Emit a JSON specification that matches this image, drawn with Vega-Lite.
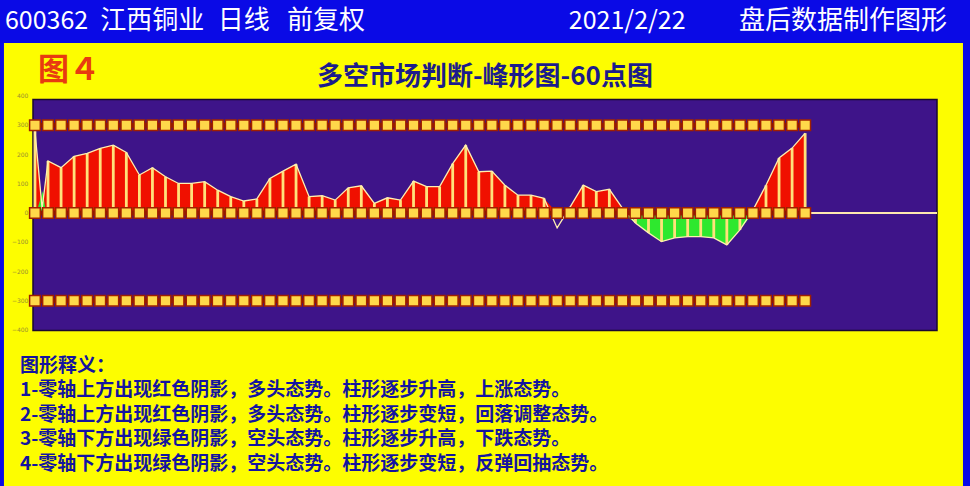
{
  "$schema": "https://vega.github.io/schema/vega-lite/v6.json",
  "width": 904,
  "height": 234,
  "autosize": {"type": "none"},
  "padding": {"left": 33, "top": 96, "right": 33, "bottom": 156},
  "background": "#0a0ae6",
  "config": {"view": {"stroke": null}, "font": "Noto Sans CJK SC"},
  "datasets": {
    "main": [
      {"i": 0, "v": 280, "red": 280, "green": 0},
      {"i": 0.55, "v": 15, "red": 15, "green": 0},
      {"i": 1, "v": 178, "red": 178, "green": 0},
      {"i": 2, "v": 155, "red": 155, "green": 0},
      {"i": 3, "v": 194, "red": 194, "green": 0},
      {"i": 4, "v": 204, "red": 204, "green": 0},
      {"i": 5, "v": 221, "red": 221, "green": 0},
      {"i": 6, "v": 232, "red": 232, "green": 0},
      {"i": 7, "v": 207, "red": 207, "green": 0},
      {"i": 8, "v": 130, "red": 130, "green": 0},
      {"i": 9, "v": 155, "red": 155, "green": 0},
      {"i": 10, "v": 124, "red": 124, "green": 0},
      {"i": 11, "v": 101, "red": 101, "green": 0},
      {"i": 12, "v": 101, "red": 101, "green": 0},
      {"i": 13, "v": 107, "red": 107, "green": 0},
      {"i": 14, "v": 78, "red": 78, "green": 0},
      {"i": 15, "v": 56, "red": 56, "green": 0},
      {"i": 16, "v": 41, "red": 41, "green": 0},
      {"i": 17, "v": 48, "red": 48, "green": 0},
      {"i": 18, "v": 118, "red": 118, "green": 0},
      {"i": 19, "v": 143, "red": 143, "green": 0},
      {"i": 20, "v": 167, "red": 167, "green": 0},
      {"i": 21, "v": 56, "red": 56, "green": 0},
      {"i": 22, "v": 59, "red": 59, "green": 0},
      {"i": 23, "v": 44, "red": 44, "green": 0},
      {"i": 24, "v": 86, "red": 86, "green": 0},
      {"i": 25, "v": 93, "red": 93, "green": 0},
      {"i": 26, "v": 33, "red": 33, "green": 0},
      {"i": 27, "v": 52, "red": 52, "green": 0},
      {"i": 28, "v": 44, "red": 44, "green": 0},
      {"i": 29, "v": 109, "red": 109, "green": 0},
      {"i": 30, "v": 90, "red": 90, "green": 0},
      {"i": 31, "v": 90, "red": 90, "green": 0},
      {"i": 32, "v": 169, "red": 169, "green": 0},
      {"i": 33, "v": 232, "red": 232, "green": 0},
      {"i": 34, "v": 141, "red": 141, "green": 0},
      {"i": 35, "v": 143, "red": 143, "green": 0},
      {"i": 36, "v": 95, "red": 95, "green": 0},
      {"i": 37, "v": 61, "red": 61, "green": 0},
      {"i": 38, "v": 61, "red": 61, "green": 0},
      {"i": 39, "v": 50, "red": 50, "green": 0},
      {"i": 40, "v": -51, "red": 0, "green": 0},
      {"i": 41, "v": 21, "red": 21, "green": 0},
      {"i": 42, "v": 95, "red": 95, "green": 0},
      {"i": 43, "v": 73, "red": 73, "green": 0},
      {"i": 44, "v": 81, "red": 81, "green": 0},
      {"i": 45, "v": 17, "red": 17, "green": 0},
      {"i": 46, "v": -34, "red": 0, "green": -34},
      {"i": 47, "v": -68, "red": 0, "green": -68},
      {"i": 48, "v": -98, "red": 0, "green": -98},
      {"i": 49, "v": -85, "red": 0, "green": -85},
      {"i": 50, "v": -81, "red": 0, "green": -81},
      {"i": 51, "v": -81, "red": 0, "green": -81},
      {"i": 52, "v": -85, "red": 0, "green": -85},
      {"i": 53, "v": -109, "red": 0, "green": -109},
      {"i": 54, "v": -58, "red": 0, "green": -58},
      {"i": 55, "v": 10, "red": 10, "green": 0},
      {"i": 56, "v": 95, "red": 95, "green": 0},
      {"i": 57, "v": 188, "red": 188, "green": 0},
      {"i": 58, "v": 222, "red": 222, "green": 0},
      {"i": 59, "v": 273, "red": 273, "green": 0}
    ],
    "spike": [
      {"i": 0.1, "g": 0},
      {"i": 0.6, "g": 75},
      {"i": 0.85, "g": 0}
    ],
    "levels": [{"level": 300}, {"level": 0}, {"level": -300}],
    "ticks": [{"t": 400}, {"t": 300}, {"t": 200}, {"t": 100}, {"t": 0}, {"t": -100}, {"t": -200}, {"t": -300}, {"t": -400}],
    "one": [{}]
  },
  "layer": [
    {
      "data": {"name": "one"},
      "mark": {"type": "rect", "fill": "#fdfd00"},
      "encoding": {
        "x": {"datum": -2.375, "type": "quantitative", "scale": {"domain": [-0.15, 69.1], "nice": false, "zero": false}, "axis": null},
        "x2": {"datum": 71.09},
        "y": {"datum": 581, "type": "quantitative", "scale": {"domain": [-400, 400], "nice": false, "zero": false}, "axis": null},
        "y2": {"datum": -950}
      }
    },
    {
      "data": {"name": "one"},
      "mark": {"type": "rect", "fill": "#3e1489", "stroke": "#1a0830", "strokeWidth": 1.5},
      "encoding": {
        "x": {"datum": -0.15, "type": "quantitative"},
        "x2": {"datum": 69.1},
        "y": {"datum": 388, "type": "quantitative"},
        "y2": {"datum": -402}
      }
    },
    {
      "data": {"name": "ticks"},
      "mark": {"type": "text", "fontSize": 6, "color": "#9a9030", "align": "right", "baseline": "middle", "font": "DejaVu Sans"},
      "encoding": {
        "x": {"datum": -0.5, "type": "quantitative"},
        "y": {"field": "t", "type": "quantitative"},
        "text": {"field": "t", "type": "quantitative"}
      }
    },
    {
      "data": {"name": "main"},
      "mark": {"type": "area", "fill": "#f01000"},
      "encoding": {
        "x": {"field": "i", "type": "quantitative"},
        "y": {"field": "red", "type": "quantitative"},
        "y2": {"datum": 0}
      }
    },
    {
      "data": {"name": "main"},
      "mark": {"type": "area", "fill": "#2ee82e"},
      "encoding": {
        "x": {"field": "i", "type": "quantitative"},
        "y": {"field": "green", "type": "quantitative"},
        "y2": {"datum": 0}
      }
    },
    {
      "data": {"name": "spike"},
      "mark": {"type": "area", "fill": "#2ee82e"},
      "encoding": {
        "x": {"field": "i", "type": "quantitative"},
        "y": {"field": "g", "type": "quantitative"},
        "y2": {"datum": 0}
      }
    },
    {
      "data": {"name": "main"},
      "transform": [{"filter": "datum.i == floor(datum.i) && (datum.red > 0 || datum.green < 0)"}],
      "mark": {"type": "rule", "color": "#ffe27a", "strokeWidth": 2.8},
      "encoding": {
        "x": {"field": "i", "type": "quantitative"},
        "y": {"field": "v", "type": "quantitative"},
        "y2": {"datum": 0}
      }
    },
    {
      "data": {"name": "main"},
      "mark": {"type": "line", "color": "#fff0b0", "strokeWidth": 1.3},
      "encoding": {
        "x": {"field": "i", "type": "quantitative"},
        "y": {"field": "v", "type": "quantitative"}
      }
    },
    {
      "data": {"name": "one"},
      "mark": {"type": "rule", "color": "#ffe8b0", "strokeWidth": 2},
      "encoding": {
        "x": {"datum": 59, "type": "quantitative"},
        "x2": {"datum": 69.1},
        "y": {"datum": 0, "type": "quantitative"}
      }
    },
    {
      "data": {"name": "levels"},
      "mark": {"type": "rule", "color": "#8a1800", "strokeWidth": 5},
      "encoding": {
        "x": {"datum": -0.3, "type": "quantitative"},
        "x2": {"datum": 59.3},
        "y": {"field": "level", "type": "quantitative"}
      }
    },
    {
      "data": {"name": "main"},
      "transform": [{"filter": "datum.i == floor(datum.i)"}],
      "mark": {"type": "point", "shape": "square", "filled": true, "size": 115, "fill": "#ffd84a", "stroke": "#a02000", "strokeWidth": 1.5, "opacity": 1},
      "encoding": {
        "x": {"field": "i", "type": "quantitative"},
        "y": {"datum": 300, "type": "quantitative"}
      }
    },
    {
      "data": {"name": "main"},
      "transform": [{"filter": "datum.i == floor(datum.i)"}],
      "mark": {"type": "point", "shape": "square", "filled": true, "size": 115, "fill": "#ffd84a", "stroke": "#a02000", "strokeWidth": 1.5, "opacity": 1},
      "encoding": {
        "x": {"field": "i", "type": "quantitative"},
        "y": {"datum": 0, "type": "quantitative"}
      }
    },
    {
      "data": {"name": "main"},
      "transform": [{"filter": "datum.i == floor(datum.i)"}],
      "mark": {"type": "point", "shape": "square", "filled": true, "size": 115, "fill": "#ffd84a", "stroke": "#a02000", "strokeWidth": 1.5, "opacity": 1},
      "encoding": {
        "x": {"field": "i", "type": "quantitative"},
        "y": {"datum": -300, "type": "quantitative"}
      }
    },
    {
      "data": {"name": "one"},
      "mark": {"type": "text", "text": "600362", "color": "#ffffff", "fontSize": 25, "align": "left", "baseline": "middle"},
      "encoding": {"x": {"datum": -2.3, "type": "quantitative"}, "y": {"datum": 656, "type": "quantitative"}}
    },
    {
      "data": {"name": "one"},
      "mark": {"type": "text", "text": "江西铜业", "color": "#ffffff", "fontSize": 26, "align": "left", "baseline": "middle"},
      "encoding": {"x": {"datum": 5.0, "type": "quantitative"}, "y": {"datum": 656, "type": "quantitative"}}
    },
    {
      "data": {"name": "one"},
      "mark": {"type": "text", "text": "日线", "color": "#ffffff", "fontSize": 26, "align": "left", "baseline": "middle"},
      "encoding": {"x": {"datum": 14.0, "type": "quantitative"}, "y": {"datum": 656, "type": "quantitative"}}
    },
    {
      "data": {"name": "one"},
      "mark": {"type": "text", "text": "前复权", "color": "#ffffff", "fontSize": 26, "align": "left", "baseline": "middle"},
      "encoding": {"x": {"datum": 19.3, "type": "quantitative"}, "y": {"datum": 656, "type": "quantitative"}}
    },
    {
      "data": {"name": "one"},
      "mark": {"type": "text", "text": "2021/2/22", "color": "#ffffff", "fontSize": 25, "align": "left", "baseline": "middle"},
      "encoding": {"x": {"datum": 40.9, "type": "quantitative"}, "y": {"datum": 656, "type": "quantitative"}}
    },
    {
      "data": {"name": "one"},
      "mark": {"type": "text", "text": "盘后数据制作图形", "color": "#ffffff", "fontSize": 26, "align": "right", "baseline": "middle"},
      "encoding": {"x": {"datum": 69.86, "type": "quantitative"}, "y": {"datum": 656, "type": "quantitative"}}
    },
    {
      "data": {"name": "one"},
      "mark": {"type": "text", "text": "图４", "color": "#e83a10", "fontSize": 31, "fontWeight": "bold", "align": "left", "baseline": "middle"},
      "encoding": {"x": {"datum": 0.23, "type": "quantitative"}, "y": {"datum": 485, "type": "quantitative"}}
    },
    {
      "data": {"name": "one"},
      "mark": {"type": "text", "text": "多空市场判断-峰形图-60点图", "color": "#1c1c8c", "fontSize": 26, "fontWeight": "bold", "align": "center", "baseline": "middle"},
      "encoding": {"x": {"datum": 34.47, "type": "quantitative"}, "y": {"datum": 465, "type": "quantitative"}}
    },
    {
      "data": {"name": "one"},
      "mark": {"type": "text", "text": ["图形释义：", "1-零轴上方出现红色阴影，多头态势。柱形逐步升高，上涨态势。", "2-零轴上方出现红色阴影，多头态势。柱形逐步变短，回落调整态势。", "3-零轴下方出现绿色阴影，空头态势。柱形逐步升高，下跌态势。", "4-零轴下方出现绿色阴影，空头态势。柱形逐步变短，反弹回抽态势。"], "color": "#1414a0", "fontSize": 19, "fontWeight": "bold", "lineHeight": 24.5, "align": "left", "baseline": "top"},
      "encoding": {"x": {"datum": -1.15, "type": "quantitative"}, "y": {"datum": -492, "type": "quantitative"}}
    }
  ]
}
